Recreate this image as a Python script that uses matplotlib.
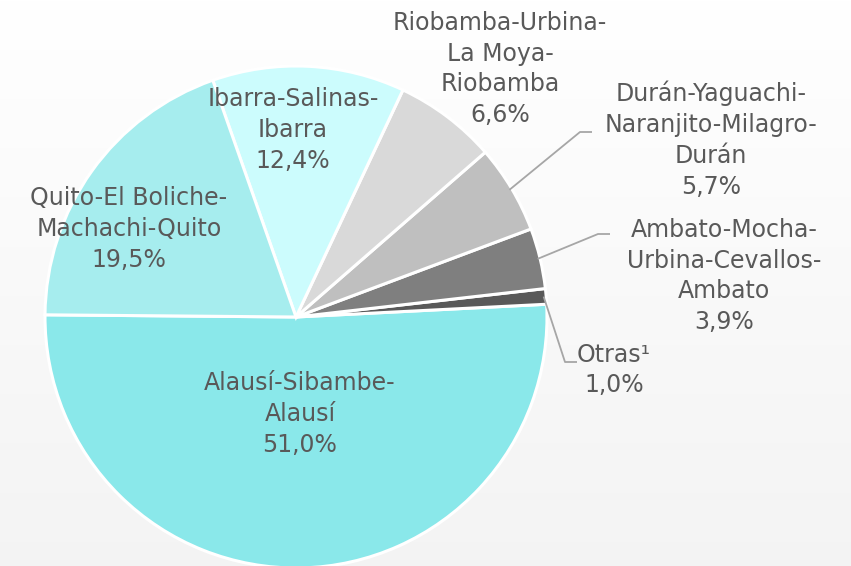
import numpy as np
import matplotlib
matplotlib.use('Agg')
import matplotlib.pyplot as plt

# data (share of passengers by route)
routes = ['Alausí-Sibambe-\nAlausí', 'Otras¹', 'Ambato-Mocha-\nUrbina-Cevallos-\nAmbato',
          'Durán-Yaguachi-\nNaranjito-Milagro-\nDurán', 'Riobamba-Urbina-\nLa Moya-\nRiobamba',
          'Ibarra-Salinas-\nIbarra', 'Quito-El Boliche-\nMachachi-Quito']
shares = [51.0, 1.0, 3.9, 5.7, 6.6, 12.4, 19.5]
colors = ['#8AE8EA', '#595959', '#7F7F7F', '#BFBFBF', '#D9D9D9', '#CCFCFD', '#A6EDEE']

W, H = 851, 566
fig = plt.figure(figsize=(W / 100, H / 100), dpi=100)
ax = fig.add_axes([0, 0, 1, 1])

# soft grey background, white on top
grad = np.linspace(1.0, 0.955, 256).reshape(-1, 1)
ax.imshow(np.dstack([grad, grad, grad]), extent=[0, W, 0, H], aspect='auto', zorder=0)

cx, cy, R = 296, H - 317, 251
wedges, _ = ax.pie(shares, colors=colors, startangle=179.5, counterclock=True,
                   center=(cx, cy), radius=R, frame=True,
                   wedgeprops=dict(edgecolor='white', linewidth=2.2))
ax.set_xlim(0, W)
ax.set_ylim(0, H)
ax.axis('off')
for w in wedges:
    w.set_zorder(2)

txt = '#595959'
fs = 17


def label(i, x, y):
    t = routes[i] + '\n' + f'{shares[i]:.1f}%'.replace('.', ',')
    ax.text(x, H - y, t, ha='center', va='center', color=txt, fontsize=fs,
            linespacing=1.36, family='DejaVu Sans', zorder=5)


# inside labels
label(0, 300, 414)
label(6, 129, 229)
label(5, 293, 130)
label(4, 500, 69)
# outside labels
label(3, 711, 140)
label(2, 724, 276)
label(1, 614, 370)


def leader(i, pts):
    w = wedges[i]
    mid = np.deg2rad((w.theta1 + w.theta2) / 2)
    x0 = cx + R * 0.99 * np.cos(mid)
    y0 = cy + R * 0.99 * np.sin(mid)
    xs = [x0] + [p[0] for p in pts]
    ys = [y0] + [H - p[1] for p in pts]
    ax.plot(xs, ys, color='#A6A6A6', lw=1.3, zorder=3, solid_capstyle='butt')


leader(3, [(580, 132), (592, 132)])
leader(2, [(598, 234), (610, 234)])
leader(1, [(565, 362), (577, 362)])

fig.savefig('out.png', dpi=100)
